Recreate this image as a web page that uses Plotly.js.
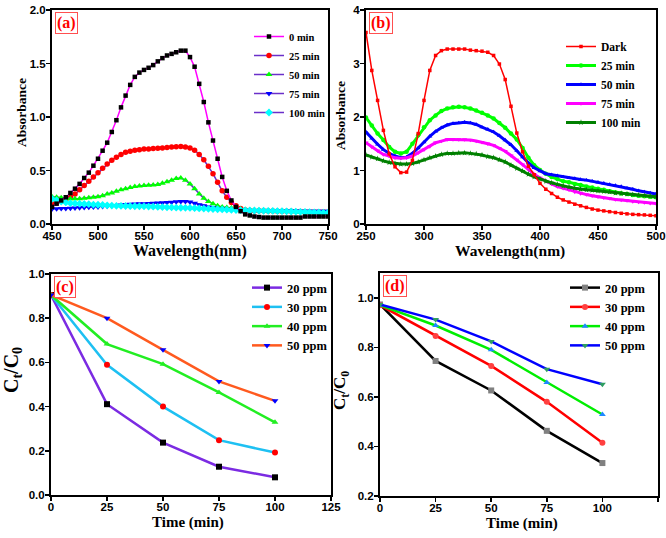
<!DOCTYPE html>
<html>
<head>
<meta charset="utf-8">
<script src="https://cdn.plot.ly/plotly-3.0.1.min.js"></script>
<style>html,body{margin:0;padding:0;background:#fff;}#chart{width:666px;height:538px;}</style>
</head>
<body>
<div id="chart"></div>
<script>
// ---------- Panel (a) data ----------
const wlA = [];
for (let w = 450; w <= 750; w += 5) wlA.push(w);
const a0min = [0.16,0.19,0.22,0.25,0.29,0.33,0.375,0.43,0.48,0.545,0.61,
  0.685,0.76,0.86,0.97,1.09,1.20,1.30,1.375,1.415,1.44,
  1.46,1.485,1.52,1.55,1.575,1.59,1.605,1.62,1.62,1.56,
  1.47,1.31,1.14,0.95,0.78,0.61,0.44,0.31,0.22,0.16,
  0.12,0.09,0.08,0.07,0.065,0.06,0.06,0.06,0.06,0.06,
  0.06,0.06,0.06,0.06,0.07,0.07,0.07,0.07,0.07,0.07];
const a25min = [0.19,0.20,0.21,0.23,0.25,0.28,0.32,0.36,0.40,0.44,0.48,
  0.52,0.56,0.595,0.625,0.65,0.67,0.68,0.69,0.695,0.70,
  0.70,0.705,0.708,0.71,0.715,0.72,0.722,0.725,0.72,0.71,
  0.69,0.65,0.60,0.54,0.47,0.39,0.31,0.25,0.20,0.17,
  0.145,0.13,0.127,0.125,0.124,0.123,0.122,0.121,0.12,0.12,
  0.119,0.118,0.117,0.116,0.115,0.114,0.113,0.112,0.111,0.11];
const a50min = [0.255,0.25,0.245,0.24,0.235,0.235,0.235,0.24,0.245,0.25,0.255,
  0.265,0.28,0.29,0.305,0.32,0.33,0.34,0.35,0.355,0.36,
  0.362,0.365,0.37,0.38,0.395,0.41,0.425,0.43,0.41,0.375,
  0.33,0.28,0.24,0.21,0.19,0.17,0.16,0.155,0.15,0.145,
  0.14,0.135,0.132,0.13,0.128,0.126,0.125,0.123,0.122,0.12,
  0.118,0.116,0.115,0.113,0.112,0.11,0.109,0.108,0.106,0.105];
const a75min = [0.14,0.142,0.144,0.146,0.148,0.15,0.152,0.155,0.157,0.158,0.16,
  0.163,0.166,0.17,0.174,0.178,0.182,0.185,0.188,0.19,0.19,
  0.192,0.194,0.196,0.198,0.2,0.203,0.207,0.21,0.21,0.205,
  0.195,0.18,0.17,0.16,0.152,0.145,0.14,0.135,0.132,0.13,
  0.128,0.127,0.126,0.125,0.125,0.124,0.124,0.123,0.123,0.122,
  0.122,0.121,0.121,0.12,0.12,0.12,0.12,0.12,0.12,0.12];
const a100min = [0.235,0.222,0.21,0.202,0.195,0.192,0.19,0.187,0.185,0.182,0.18,
  0.178,0.175,0.172,0.17,0.169,0.168,0.167,0.166,0.165,0.165,
  0.163,0.162,0.16,0.158,0.156,0.155,0.153,0.152,0.151,0.15,
  0.148,0.146,0.144,0.142,0.14,0.138,0.136,0.134,0.132,0.13,
  0.129,0.128,0.127,0.126,0.125,0.124,0.123,0.122,0.121,0.12,
  0.118,0.117,0.115,0.114,0.112,0.111,0.109,0.108,0.106,0.105];

// ---------- Panel (b) data ----------
const wlB = [];
for (let w = 250; w <= 500; w += 5) wlB.push(w);
const bDark = [3.58,2.87,2.31,1.75,1.31,1.07,0.96,0.97,1.19,1.69,2.31,
  2.87,3.15,3.24,3.27,3.27,3.27,3.27,3.25,3.24,3.23,
  3.21,3.15,2.99,2.70,2.20,1.70,1.35,1.08,0.92,0.76,
  0.65,0.57,0.50,0.45,0.41,0.37,0.34,0.31,0.28,0.26,
  0.245,0.23,0.215,0.20,0.19,0.18,0.175,0.17,0.162,0.155];
const b25min = [1.99,1.84,1.69,1.57,1.44,1.35,1.32,1.35,1.50,1.66,1.81,
  1.94,2.03,2.11,2.16,2.18,2.19,2.18,2.16,2.12,2.08,
  2.03,1.97,1.89,1.80,1.69,1.58,1.42,1.24,1.10,1.01,
  0.94,0.88,0.84,0.80,0.78,0.75,0.73,0.70,0.68,0.66,
  0.64,0.61,0.59,0.57,0.56,0.54,0.53,0.52,0.51,0.50];
const b50min = [1.72,1.60,1.49,1.39,1.32,1.27,1.24,1.25,1.32,1.42,1.53,
  1.64,1.73,1.80,1.85,1.88,1.89,1.90,1.89,1.86,1.81,
  1.77,1.72,1.65,1.57,1.48,1.37,1.25,1.14,1.05,0.99,
  0.94,0.92,0.90,0.88,0.86,0.85,0.83,0.82,0.80,0.78,
  0.76,0.74,0.72,0.70,0.67,0.65,0.62,0.60,0.58,0.56];
const b75min = [1.52,1.44,1.37,1.30,1.27,1.24,1.23,1.24,1.27,1.33,1.39,
  1.45,1.52,1.55,1.58,1.58,1.58,1.58,1.57,1.55,1.53,
  1.50,1.47,1.42,1.36,1.28,1.20,1.11,1.02,0.93,0.86,
  0.80,0.75,0.70,0.67,0.64,0.60,0.57,0.55,0.53,0.51,
  0.49,0.48,0.46,0.45,0.44,0.42,0.41,0.40,0.39,0.385];
const b100min = [1.29,1.25,1.22,1.18,1.15,1.13,1.12,1.12,1.13,1.16,1.20,
  1.24,1.27,1.30,1.32,1.32,1.33,1.33,1.32,1.31,1.29,
  1.26,1.24,1.20,1.16,1.10,1.04,0.99,0.93,0.88,0.84,
  0.80,0.77,0.74,0.71,0.69,0.67,0.65,0.64,0.63,0.62,
  0.61,0.60,0.58,0.57,0.56,0.55,0.54,0.53,0.52,0.51];

// ---------- Panel (c) data ----------
const timeC = [0, 25, 50, 75, 100];
const c20 = [0.905, 0.411, 0.237, 0.128, 0.080];
const c30 = [0.905, 0.589, 0.400, 0.248, 0.192];
const c40 = [0.905, 0.683, 0.592, 0.464, 0.329];
const c50 = [0.905, 0.800, 0.657, 0.514, 0.426];

// ---------- Panel (d) data ----------
const timeD = [0, 25, 50, 75, 100];
const d20 = [0.973, 0.745, 0.626, 0.463, 0.333];
const d30 = [0.970, 0.846, 0.725, 0.580, 0.415];
const d40 = [0.970, 0.888, 0.790, 0.658, 0.529];
const d50 = [0.973, 0.912, 0.824, 0.712, 0.651];

// ---------- text ----------
const panelLabels = ['(a)', '(b)', '(c)', '(d)'];
const xTitles = ['Wavelength(nm)', 'Wavelength(nm)', 'Time (min)', 'Time (min)'];
const yTitles = ['Absorbance', 'Absorbance', 'C<sub>t</sub>/C<sub>0</sub>', 'C<sub>t</sub>/C<sub>0</sub>'];

// ---------- styling helpers ----------
const serifB = {family: 'Liberation Serif, Times New Roman, serif', weight: 'bold', color: '#000'};
const tickF = {family: 'Liberation Sans, Arial, sans-serif', size: 11.5, weight: 'bold', color: '#000'};
function ax(extra) {
  return Object.assign({
    showline: true, linecolor: '#000', linewidth: 2, mirror: true,
    ticks: 'outside', ticklen: 4, tickwidth: 1.5, tickcolor: '#000',
    showgrid: false, zeroline: false, tickfont: tickF, automargin: false
  }, extra);
}
const xax = (extra) => ax(Object.assign({ticklabelstandoff: -4}, extra));
const yax = (extra) => ax(Object.assign({ticklabelstandoff: -2}, extra));
const purple = '#6a2fc9';

const traces = [
  // (a)
  {x: wlA, y: a25min, name: '25 min', xaxis: 'x', yaxis: 'y', legend: 'legend', legendrank: 2, mode: 'lines+markers',
   line: {color: purple, width: 1.5}, marker: {symbol: 'circle', size: 5.5, color: '#ff0000'}},
  {x: wlA, y: a50min, name: '50 min', xaxis: 'x', yaxis: 'y', legend: 'legend', legendrank: 3, mode: 'lines+markers',
   line: {color: purple, width: 1.5}, marker: {symbol: 'triangle-up', size: 6, color: '#00ff00'}},
  {x: wlA, y: a75min, name: '75 min', xaxis: 'x', yaxis: 'y', legend: 'legend', legendrank: 4, mode: 'lines+markers',
   line: {color: purple, width: 1.5}, marker: {symbol: 'triangle-down', size: 6, color: '#0000ff'}},
  {x: wlA, y: a100min, name: '100 min', xaxis: 'x', yaxis: 'y', legend: 'legend', legendrank: 5, mode: 'lines+markers',
   line: {color: purple, width: 1.5}, marker: {symbol: 'diamond', size: 6, color: '#00ffff'}},
  {x: wlA, y: a0min, name: '0 min', xaxis: 'x', yaxis: 'y', legend: 'legend', legendrank: 1, mode: 'lines+markers',
   line: {color: '#ff00ff', width: 1.5}, marker: {symbol: 'square', size: 4.5, color: '#000'}},
  // (b)
  {x: wlB, y: b25min, name: '25 min', xaxis: 'x2', yaxis: 'y2', legend: 'legend2', legendrank: 2, mode: 'lines+markers',
   line: {color: '#00ff00', width: 3}, marker: {symbol: 'circle', size: 4.5, color: '#00ff00'}},
  {x: wlB, y: b50min, name: '50 min', xaxis: 'x2', yaxis: 'y2', legend: 'legend2', legendrank: 3, mode: 'lines+markers',
   line: {color: '#0000ff', width: 3}, marker: {symbol: 'triangle-up', size: 4.5, color: '#0000ff'}},
  {x: wlB, y: b75min, name: '75 min', xaxis: 'x2', yaxis: 'y2', legend: 'legend2', legendrank: 4, mode: 'lines+markers',
   line: {color: '#ff00ff', width: 3}, marker: {symbol: 'triangle-down', size: 4.5, color: '#ff00ff'}},
  {x: wlB, y: b100min, name: '100 min', xaxis: 'x2', yaxis: 'y2', legend: 'legend2', legendrank: 5, mode: 'lines+markers',
   line: {color: '#008000', width: 3}, marker: {symbol: 'star', size: 4.5, color: '#008000'}},
  {x: wlB, y: bDark, name: 'Dark', xaxis: 'x2', yaxis: 'y2', legend: 'legend2', legendrank: 1, mode: 'lines+markers',
   line: {color: '#ff0000', width: 1.5}, marker: {symbol: 'square', size: 3.5, color: '#ff0000'}},
  // (c)
  {x: timeC, y: c20, name: '20 ppm', xaxis: 'x3', yaxis: 'y3', legend: 'legend3', mode: 'lines+markers',
   line: {color: '#7b2be2', width: 2.5}, marker: {symbol: 'square', size: 6, color: '#000'}},
  {x: timeC, y: c30, name: '30 ppm', xaxis: 'x3', yaxis: 'y3', legend: 'legend3', mode: 'lines+markers',
   line: {color: '#1ec0f2', width: 2.5}, marker: {symbol: 'circle', size: 6, color: '#ff0000'}},
  {x: timeC, y: c40, name: '40 ppm', xaxis: 'x3', yaxis: 'y3', legend: 'legend3', mode: 'lines+markers',
   line: {color: '#22ee22', width: 2.5}, marker: {symbol: 'triangle-up', size: 6, color: '#22ee22'}},
  {x: timeC, y: c50, name: '50 ppm', xaxis: 'x3', yaxis: 'y3', legend: 'legend3', mode: 'lines+markers',
   line: {color: '#ff5a1f', width: 2.5}, marker: {symbol: 'triangle-down', size: 6, color: '#0000ff'}},
  // (d)
  {x: timeD, y: d20, name: '20 ppm', xaxis: 'x4', yaxis: 'y4', legend: 'legend4', mode: 'lines+markers',
   line: {color: '#000', width: 2.5}, marker: {symbol: 'square', size: 6, color: '#808080'}},
  {x: timeD, y: d30, name: '30 ppm', xaxis: 'x4', yaxis: 'y4', legend: 'legend4', mode: 'lines+markers',
   line: {color: '#ff0000', width: 2.5}, marker: {symbol: 'circle', size: 6, color: '#ff4040'}},
  {x: timeD, y: d40, name: '40 ppm', xaxis: 'x4', yaxis: 'y4', legend: 'legend4', mode: 'lines+markers',
   line: {color: '#00ee00', width: 2.5}, marker: {symbol: 'triangle-up', size: 6, color: '#1e88ff'}},
  {x: timeD, y: d50, name: '50 ppm', xaxis: 'x4', yaxis: 'y4', legend: 'legend4', mode: 'lines+markers',
   line: {color: '#0000ff', width: 2.5}, marker: {symbol: 'triangle-down', size: 6, color: '#2e9e60'}}
];

const W = 666, H = 538;
const dx = (a, b) => [a / W, b / W];
const dy = (top, bot) => [1 - bot / H, 1 - top / H];
const legBase = {bgcolor: 'rgba(0,0,0,0)', borderwidth: 0, xanchor: 'left', yanchor: 'top', itemwidth: 30, tracegroupgap: 0};

function label(txt, xr, yr) {
  return {text: txt, xref: xr + ' domain', yref: yr + ' domain', x: 0.01, y: 0.99, xanchor: 'left', yanchor: 'top',
    showarrow: false, font: Object.assign({}, serifB, {size: 16, color: '#ff0000'}),
    bordercolor: '#ff5050', borderwidth: 1, borderpad: 1, bgcolor: '#fff'};
}
function xTitle(txt, cx, cy, size) {
  return {text: txt, xref: 'paper', yref: 'paper', x: cx / W, y: 1 - cy / H, xanchor: 'center', yanchor: 'middle',
    showarrow: false, font: Object.assign({}, serifB, {size: size})};
}
function yTitle(txt, cx, cy, size) {
  return {text: txt, xref: 'paper', yref: 'paper', x: cx / W, y: 1 - cy / H, xanchor: 'center', yanchor: 'middle',
    textangle: -90, showarrow: false, font: Object.assign({}, serifB, {size: size})};
}

const layout = {
  width: W, height: H, margin: {l: 0, r: 0, t: 0, b: 0},
  paper_bgcolor: '#fff', plot_bgcolor: '#fff', showlegend: true,
  xaxis: xax({domain: dx(52, 328), range: [450, 750], tickvals: [450, 500, 550, 600, 650, 700, 750], anchor: 'y'}),
  yaxis: yax({domain: dy(10, 224), range: [0, 2], tickvals: [0, 0.5, 1, 1.5, 2], tickformat: '.1f', anchor: 'x'}),
  xaxis2: xax({domain: dx(366, 656), range: [250, 500], tickvals: [250, 300, 350, 400, 450, 500], anchor: 'y2'}),
  yaxis2: yax({domain: dy(10, 224), range: [0, 4], tickvals: [0, 1, 2, 3, 4], anchor: 'x2'}),
  xaxis3: xax({domain: dx(51, 331), range: [0, 125], tickvals: [0, 25, 50, 75, 100, 125], anchor: 'y3'}),
  yaxis3: yax({domain: dy(274, 495), range: [0, 1], tickvals: [0, 0.2, 0.4, 0.6, 0.8, 1.0], tickformat: '.1f', anchor: 'x3'}),
  xaxis4: xax({domain: dx(380, 658), range: [0, 125], tickvals: [0, 25, 50, 75, 100, 125], anchor: 'y4'}),
  yaxis4: yax({domain: dy(273, 496), range: [0.2, 1.1], tickvals: [0.2, 0.4, 0.6, 0.8, 1.0], tickformat: '.1f', anchor: 'x4'}),
  legend: Object.assign({}, legBase, {x: 249 / W, y: 1 - 22 / H, font: Object.assign({}, serifB, {size: 10.5})}),
  legend2: Object.assign({}, legBase, {x: 561 / W, y: 1 - 32 / H, font: Object.assign({}, serifB, {size: 11.5})}),
  legend3: Object.assign({}, legBase, {x: 247 / W, y: 1 - 273 / H, font: Object.assign({}, serifB, {size: 12.5})}),
  legend4: Object.assign({}, legBase, {x: 565 / W, y: 1 - 273 / H, font: Object.assign({}, serifB, {size: 12.5})}),
  annotations: [
    label(panelLabels[0], 'x', 'y'), label(panelLabels[1], 'x2', 'y2'),
    label(panelLabels[2], 'x3', 'y3'), label(panelLabels[3], 'x4', 'y4'),
    xTitle(xTitles[0], 190, 251, 16), xTitle(xTitles[1], 510, 251, 15.5),
    xTitle(xTitles[2], 188, 522, 15), xTitle(xTitles[3], 522, 523, 15),
    yTitle(yTitles[0], 22, 113, 13.5), yTitle(yTitles[1], 341, 115, 13.5),
    yTitle(yTitles[2], 12, 370, 20), yTitle(yTitles[3], 341, 390, 17)
  ]
};

Plotly.newPlot('chart', traces, layout, {displayModeBar: false, staticPlot: true});
</script>
</body>
</html>
